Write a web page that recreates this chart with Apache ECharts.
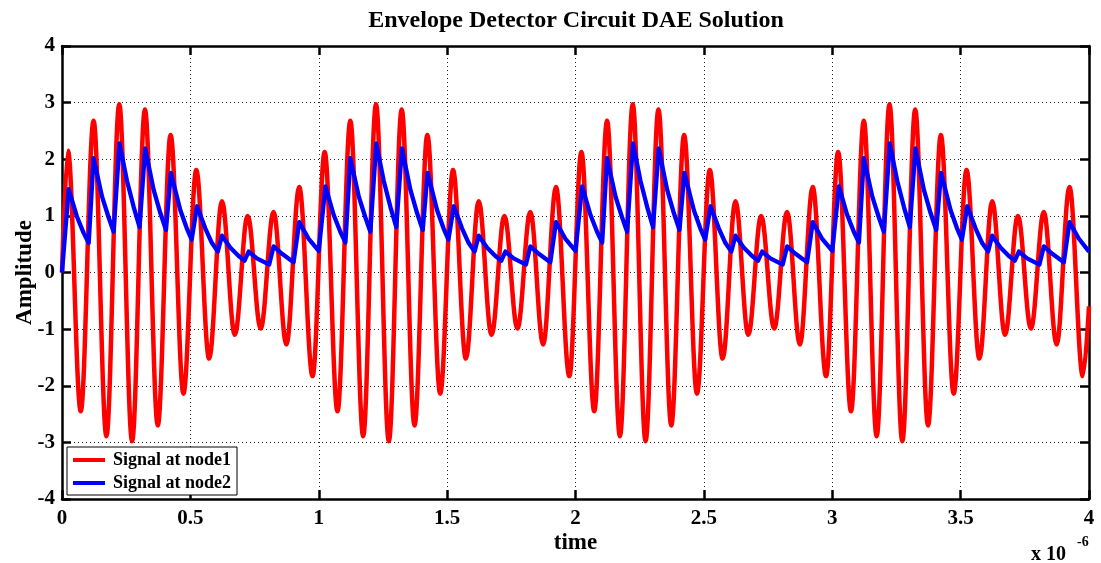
<!DOCTYPE html>
<html>
<head>
<meta charset="utf-8">
<script src="https://cdn.jsdelivr.net/npm/echarts@6/dist/echarts.min.js"></script>
<style>
html,body{margin:0;padding:0;background:#fff;}
#chart{width:1101px;height:563px;}
</style>
</head>
<body>
<div id="chart"></div>
<script>
// Time axis values are in units of 1e-6 s (as shown on the axis, "x 10^-6")
const xTicks = [0, 0.5, 1, 1.5, 2, 2.5, 3, 3.5, 4];
const yTicks = [-4, -3, -2, -1, 0, 1, 2, 3, 4];

// Signal at node1 (red): extrema
const redTime = [
  0.000,
  0.023, 0.073, 0.123, 0.173, 0.223, 0.273, 0.323, 0.373, 0.423, 0.473,
  0.523, 0.573, 0.623, 0.673, 0.723, 0.774, 0.824, 0.874, 0.924, 0.976,
  1.023, 1.073, 1.123, 1.173, 1.223, 1.273, 1.323, 1.373, 1.423, 1.473,
  1.523, 1.573, 1.623, 1.673, 1.723, 1.774, 1.824, 1.874, 1.924, 1.976,
  2.023, 2.073, 2.123, 2.173, 2.223, 2.273, 2.323, 2.373, 2.423, 2.473,
  2.523, 2.573, 2.623, 2.673, 2.723, 2.774, 2.824, 2.874, 2.924, 2.976,
  3.023, 3.073, 3.123, 3.173, 3.223, 3.273, 3.323, 3.373, 3.423, 3.473,
  3.523, 3.573, 3.623, 3.673, 3.723, 3.774, 3.824, 3.874, 3.924, 3.976,
  4.000
];
const redValue = [
  0.00,
  2.15, -2.45, 2.68, -2.89, 2.97, -2.98, 2.88, -2.70, 2.43, -2.14,
  1.81, -1.52, 1.26, -1.10, 1.00, -0.99, 1.07, -1.27, 1.51, -1.83,
  2.13, -2.45, 2.68, -2.89, 2.97, -2.98, 2.88, -2.70, 2.43, -2.14,
  1.81, -1.52, 1.26, -1.10, 1.00, -0.99, 1.07, -1.27, 1.51, -1.83,
  2.13, -2.45, 2.68, -2.89, 2.97, -2.98, 2.88, -2.70, 2.43, -2.14,
  1.81, -1.52, 1.26, -1.10, 1.00, -0.99, 1.07, -1.27, 1.51, -1.83,
  2.13, -2.45, 2.68, -2.89, 2.97, -2.98, 2.88, -2.70, 2.43, -2.14,
  1.81, -1.52, 1.26, -1.10, 1.00, -0.99, 1.07, -1.27, 1.51, -1.83,
  -0.60
];

// Signal at node2 (blue): peaks, decay points and minima
const blueTime = [
  0.000,
  0.026, 0.058, 0.084, 0.104,
  0.123, 0.156, 0.181, 0.201,
  0.224, 0.253, 0.279, 0.302,
  0.324, 0.357, 0.383, 0.405,
  0.424, 0.461, 0.486, 0.505,
  0.526, 0.558, 0.584, 0.607,
  0.623, 0.655, 0.688, 0.711,
  0.727, 0.759, 0.807,
  0.824, 0.857, 0.902,
  0.924, 0.960, 1.000,
  1.026, 1.058, 1.084, 1.104,
  1.123, 1.156, 1.181, 1.201,
  1.224, 1.253, 1.279, 1.302,
  1.324, 1.357, 1.383, 1.405,
  1.424, 1.461, 1.486, 1.505,
  1.526, 1.558, 1.584, 1.607,
  1.623, 1.655, 1.688, 1.711,
  1.727, 1.759, 1.807,
  1.824, 1.857, 1.902,
  1.924, 1.960, 2.000,
  2.026, 2.058, 2.084, 2.104,
  2.123, 2.156, 2.181, 2.201,
  2.224, 2.253, 2.279, 2.302,
  2.324, 2.357, 2.383, 2.405,
  2.424, 2.461, 2.486, 2.505,
  2.526, 2.558, 2.584, 2.607,
  2.623, 2.655, 2.688, 2.711,
  2.727, 2.759, 2.807,
  2.824, 2.857, 2.902,
  2.924, 2.960, 3.000,
  3.026, 3.058, 3.084, 3.104,
  3.123, 3.156, 3.181, 3.201,
  3.224, 3.253, 3.279, 3.302,
  3.324, 3.357, 3.383, 3.405,
  3.424, 3.461, 3.486, 3.505,
  3.526, 3.558, 3.584, 3.607,
  3.623, 3.655, 3.688, 3.711,
  3.727, 3.759, 3.807,
  3.824, 3.857, 3.902,
  3.924, 3.960, 4.000
];
const blueValue = [
  0.00,
  1.47, 0.99, 0.70, 0.52,
  2.02, 1.34, 0.98, 0.72,
  2.28, 1.62, 1.16, 0.80,
  2.19, 1.46, 1.05, 0.75,
  1.76, 1.10, 0.78, 0.58,
  1.17, 0.78, 0.52, 0.37,
  0.65, 0.44, 0.29, 0.21,
  0.37, 0.25, 0.14,
  0.46, 0.33, 0.18,
  0.89, 0.60, 0.38,
  1.52, 1.02, 0.72, 0.53,
  2.02, 1.34, 0.98, 0.72,
  2.28, 1.62, 1.16, 0.80,
  2.19, 1.46, 1.05, 0.75,
  1.76, 1.10, 0.78, 0.58,
  1.17, 0.78, 0.52, 0.37,
  0.65, 0.44, 0.29, 0.21,
  0.37, 0.25, 0.14,
  0.46, 0.33, 0.18,
  0.89, 0.60, 0.38,
  1.52, 1.02, 0.72, 0.53,
  2.02, 1.34, 0.98, 0.72,
  2.28, 1.62, 1.16, 0.80,
  2.19, 1.46, 1.05, 0.75,
  1.76, 1.10, 0.78, 0.58,
  1.17, 0.78, 0.52, 0.37,
  0.65, 0.44, 0.29, 0.21,
  0.37, 0.25, 0.14,
  0.46, 0.33, 0.18,
  0.89, 0.60, 0.38,
  1.52, 1.02, 0.72, 0.53,
  2.02, 1.34, 0.98, 0.72,
  2.28, 1.62, 1.16, 0.80,
  2.19, 1.46, 1.05, 0.75,
  1.76, 1.10, 0.78, 0.58,
  1.17, 0.78, 0.52, 0.37,
  0.65, 0.44, 0.29, 0.21,
  0.37, 0.25, 0.14,
  0.46, 0.33, 0.18,
  0.89, 0.60, 0.37
];

const seriesNames = ['Signal at node1', 'Signal at node2'];
const titleText = 'Envelope Detector Circuit DAE Solution';

const FONT = 'Liberation Serif';
const redData = redTime.map((t, i) => [t, redValue[i]]);
const blueData = blueTime.map((t, i) => [t, blueValue[i]]);

const axisLineStyle = { color: '#000', width: 2.5 };
const tickStyle = { inside: true, length: 9, lineStyle: { color: '#000', width: 2.5 } };
const labelStyle = { color: '#000', fontFamily: FONT, fontWeight: 'bold', fontSize: 21 };
const gridLine = { show: true, lineStyle: { color: '#222', width: 1, type: [1, 3] } };

const chart = echarts.init(document.getElementById('chart'), null, { renderer: 'canvas' });
chart.setOption({
  animation: false,
  backgroundColor: '#fff',
  grid: { left: 62, right: 12, top: 46, bottom: 64, containLabel: false, outerBoundsMode: 'none' },
  legend: {
    data: seriesNames,
    orient: 'vertical',
    left: 67,
    top: 447,
    icon: 'rect',
    itemWidth: 32,
    itemHeight: 4,
    itemGap: 5,
    padding: [4, 6, 3, 6],
    backgroundColor: '#fff',
    borderColor: '#000',
    borderWidth: 1,
    borderRadius: 0,
    textStyle: { color: '#000', fontFamily: FONT, fontWeight: 'bold', fontSize: 18, padding: [0, 0, 0, 3] }
  },
  xAxis: [
    {
      type: 'value', position: 'bottom', min: xTicks[0], max: xTicks[xTicks.length - 1], interval: 0.5,
      axisLine: { onZero: false, lineStyle: axisLineStyle },
      axisTick: tickStyle,
      axisLabel: Object.assign({ margin: 9 }, labelStyle),
      splitLine: gridLine,
      name: 'time', nameLocation: 'middle', nameGap: 33, nameMoveOverlap: false,
      nameTextStyle: { color: '#000', fontFamily: FONT, fontWeight: 'bold', fontSize: 23 }
    },
    {
      type: 'value', position: 'top', min: xTicks[0], max: xTicks[xTicks.length - 1], interval: 0.5,
      axisLine: { onZero: false, lineStyle: axisLineStyle },
      axisTick: tickStyle,
      axisLabel: { show: false },
      splitLine: { show: false }
    }
  ],
  yAxis: [
    {
      type: 'value', position: 'left', min: yTicks[0], max: yTicks[yTicks.length - 1], interval: 1,
      axisLine: { onZero: false, lineStyle: axisLineStyle },
      axisTick: tickStyle,
      axisLabel: Object.assign({ margin: 7 }, labelStyle),
      splitLine: gridLine,
      name: 'Amplitude', nameLocation: 'middle', nameGap: 25, nameMoveOverlap: false,
      nameTextStyle: { color: '#000', fontFamily: FONT, fontWeight: 'bold', fontSize: 23 }
    },
    {
      type: 'value', position: 'right', min: yTicks[0], max: yTicks[yTicks.length - 1], interval: 1,
      axisLine: { onZero: false, lineStyle: axisLineStyle },
      axisTick: tickStyle,
      axisLabel: { show: false },
      splitLine: { show: false }
    }
  ],
  series: [
    {
      name: seriesNames[0], type: 'line', data: redData,
      xAxisIndex: 0, yAxisIndex: 0,
      smooth: 0.36, smoothMonotone: 'x',
      showSymbol: false, symbol: 'none',
      lineStyle: { color: '#ff0000', width: 4.5 },
      itemStyle: { color: '#ff0000' },
      z: 2
    },
    {
      name: seriesNames[1], type: 'line', data: blueData,
      xAxisIndex: 0, yAxisIndex: 0,
      showSymbol: false, symbol: 'none',
      lineStyle: { color: '#0000ff', width: 4.3, join: 'round' },
      itemStyle: { color: '#0000ff' },
      z: 3
    }
  ],
  graphic: [
    { type: 'text', x: 576, y: 21,
      style: { text: titleText, fill: '#000', font: 'bold 24px "Liberation Serif"', align: 'center', verticalAlign: 'middle' } },
    { type: 'text', left: 1031, top: 545,
      style: { text: 'x 10', fill: '#000', font: 'bold 20px "Liberation Serif"' } },
    { type: 'text', left: 1077, top: 535,
      style: { text: '-6', fill: '#000', font: 'bold 14px "Liberation Serif"' } }
  ]
});
</script>
</body>
</html>
